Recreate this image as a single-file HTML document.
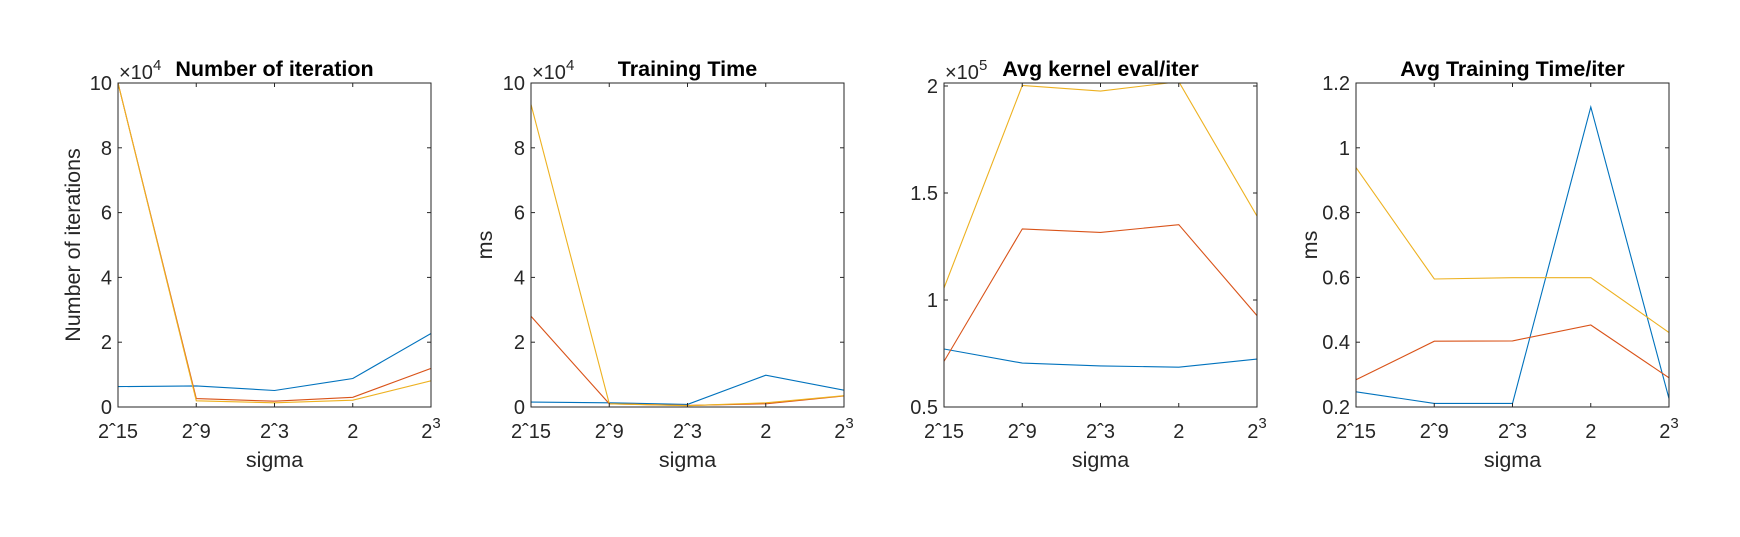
<!DOCTYPE html>
<html><head><meta charset="utf-8"><style>
body{margin:0;background:#fff;}
svg{display:block;font-family:"Liberation Sans",Arial,sans-serif;}
</style></head><body>
<svg id="fig" width="1740" height="537" viewBox="0 0 1740 537" xmlns="http://www.w3.org/2000/svg">
<rect width="1740" height="537" fill="#fff"/>
</svg>
<script>
const categories = ["2ˆ15","2ˆ9","2ˆ3","2","2^3"];
const titles = ["Number of iteration","Training Time","Avg kernel eval/iter","Avg Training Time/iter"];
const yLabels = ["Number of iterations","ms","","ms"];
const exponents = ["4","4","5",""];
const yTicks1 = [0,2,4,6,8,10];
const yTicks2 = [0,2,4,6,8,10];
const yTicks3 = [0.5,1,1.5,2];
const yTicks4 = [0.2,0.4,0.6,0.8,1,1.2];
const yRanges = [[0,10],[0,10],[0.5,2.014],[0.2,1.2]];
const p1Blue = [0.63,0.65,0.51,0.88,2.27];
const p1Red = [10,0.26,0.18,0.30,1.19];
const p1Yellow = [10,0.19,0.13,0.21,0.81];
const p2Blue = [0.15,0.13,0.08,0.98,0.52];
const p2Red = [2.8,0.10,0.05,0.10,0.34];
const p2Yellow = [9.34,0.10,0.04,0.13,0.35];
const p3Blue = [0.771,0.705,0.692,0.686,0.724];
const p3Red = [0.713,1.332,1.316,1.352,0.927];
const p3Yellow = [1.056,2.003,1.976,2.02,1.392];
const p4Blue = [0.247,0.211,0.211,1.126,0.226];
const p4Red = [0.284,0.403,0.404,0.453,0.29];
const p4Yellow = [0.939,0.595,0.599,0.599,0.43];

const series = [[p1Blue,p1Red,p1Yellow],[p2Blue,p2Red,p2Yellow],[p3Blue,p3Red,p3Yellow],[p4Blue,p4Red,p4Yellow]];
const ticksAll = [yTicks1,yTicks2,yTicks3,yTicks4];
const colors = ["#0072BD","#D95319","#EDB120"];
const seriesNames = ["blue","red","yellow"];
const lefts = [118,531,944,1356];
const W = 313, TOP = 83, BOT = 407;
const NS = "http://www.w3.org/2000/svg";
const svg = document.getElementById('fig');
function mk(tag, attrs, parent){const e=document.createElementNS(NS,tag);for(const k in attrs)e.setAttribute(k,attrs[k]);(parent||svg).appendChild(e);return e;}

for(let p=0;p<4;p++){
  const L = lefts[p], R = L+W;
  const [y0,y1] = yRanges[p];
  const xs = i => L + i*(W/(categories.length-1));
  const ys = v => BOT - (v-y0)/(y1-y0)*(BOT-TOP);
  const g = mk('g',{});
  
  
  const clipId='clip'+p;
  const cp = mk('clipPath',{id:clipId},g);
  mk('rect',{x:L,y:TOP,width:W,height:BOT-TOP},cp);
  series[p].forEach((arr,si)=>{
    const pts = arr.map((v,i)=>xs(i).toFixed(1)+','+ys(v).toFixed(1)).join(' ');
    const pl = mk('polyline',{points:pts,fill:'none',stroke:colors[si],'stroke-width':1.1,'clip-path':'url(#'+clipId+')'},g);
    
    
  });
  const box = mk('rect',{x:L,y:TOP,width:W,height:BOT-TOP,fill:'none',stroke:'#262626','stroke-width':1},g);
  
  
  categories.forEach((c,i)=>{
    const x = xs(i);
    mk('line',{x1:x,y1:BOT,x2:x,y2:BOT-4,stroke:'#262626'},g);
    mk('line',{x1:x,y1:TOP,x2:x,y2:TOP+4,stroke:'#262626'},g);
    const t = mk('text',{x:x,y:438,'text-anchor':'middle','font-size':20,fill:'#262626'},g);
    
    
    if(c.indexOf('^')>=0){
      const parts=c.split('^');
      t.textContent=parts[0];
      const s=mk('tspan',{dy:-10,'font-size':15},t); s.textContent=parts[1];
    } else t.textContent=c;
  });
  ticksAll[p].forEach(v=>{
    const y = ys(v);
    mk('line',{x1:L,y1:y,x2:L+4,y2:y,stroke:'#262626'},g);
    mk('line',{x1:R,y1:y,x2:R-4,y2:y,stroke:'#262626'},g);
    const t = mk('text',{x:L-6,y:y+7,'text-anchor':'end','font-size':20,fill:'#262626'},g);
    
    
    t.textContent = String(v);
  });
  if(exponents[p]){
    const t = mk('text',{x:L+1,y:79,'font-size':20,fill:'#262626'},g);
    
    
    t.textContent='×10';
    const s=mk('tspan',{dy:-9,'font-size':15},t); s.textContent=exponents[p];
  }
  const tt = mk('text',{x:L+W/2,y:76,'text-anchor':'middle','font-size':21.5,'font-weight':'bold',fill:'#000'},g);
  
  
  tt.textContent = titles[p];
  const xl = mk('text',{x:L+W/2,y:467,'text-anchor':'middle','font-size':21.5,fill:'#262626'},g);
  
  
  xl.textContent='sigma';
  if(yLabels[p]){
    const lx = p===0 ? 73 : L-46;
    const cy=(TOP+BOT)/2;
    const yl = mk('text',{x:lx,y:cy+7,'text-anchor':'middle','font-size':21.5,fill:'#262626',transform:'rotate(-90 '+lx+' '+cy+')'},g);
    
    
    yl.textContent=yLabels[p];
  }
}
</script>
</body></html>
